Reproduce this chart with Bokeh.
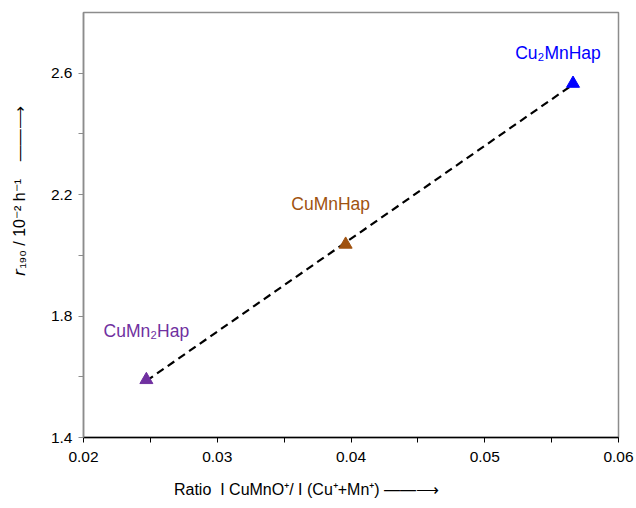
import numpy as np
from bokeh.plotting import figure
from bokeh.models import ColumnDataSource, FixedTicker, Range1d
from bokeh.core.properties import value
from bokeh.embed import file_html
from bokeh.resources import INLINE

# data
samples = ["CuMn₂Hap", "CuMnHap", "Cu₂MnHap"]
ratio = [0.0247, 0.0396, 0.0566]
r190 = [1.590, 2.036, 2.566]
colors = ["#7030A0", "#A0520F", "#0000FF"]
x_ticks = [0.02, 0.03, 0.04, 0.05, 0.06]
x_minor = [0.025, 0.035, 0.045, 0.055]
y_ticks = [1.4, 1.8, 2.2, 2.6]
y_minor = [1.6, 2.0, 2.4]
x_title = "Ratio\u00a0 I CuMnO⁺/ I (Cu⁺+Mn⁺)"
y_title = "𝘳₁₉₀ / 10⁻² h⁻¹"
ARROW = "——⟶"

# style (label offsets in pixels)
label_dx = [0, -15, -15]
label_dy = [-49, -40, -31]
NB = "\u00a0"

FONT = "Liberation Sans"

p = figure(width=636, height=508, output_backend="svg", toolbar_location=None,
           x_range=Range1d(0.02, 0.06), y_range=Range1d(1.4, 2.8),
           min_border_left=83, min_border_right=18, min_border_top=12, min_border_bottom=71)
p.grid.visible = False
p.outline_line_color = "#8c8c8c"
p.outline_line_width = 1.5
p.background_fill_color = "white"
p.border_fill_color = "white"

# fit line
k, b = np.polyfit(ratio, r190, 1)
fx = [min(ratio), max(ratio)]
fy = [k * v + b for v in fx]
p.line(fx, fy, line_color="black", line_width=2.2, line_dash="8 5")

src = ColumnDataSource(dict(x=ratio, y=r190, c=colors, t=samples, dx=label_dx, dy=label_dy))
p.scatter("x", "y", source=src, marker="triangle", size=13, fill_color="c", line_color="c")
p.text("x", "y", text="t", source=src, text_color="c", x_offset="dx", y_offset="dy",
       text_align="center", text_baseline="middle", text_font=value(FONT), text_font_size="17.5px")

xax = p.xaxis[0]
xax.ticker = FixedTicker(ticks=x_ticks, minor_ticks=x_minor)
xax.axis_line_color = "black"
xax.axis_line_width = 1.5
xax.major_tick_line_color = "black"
xax.minor_tick_line_color = "black"
xax.major_tick_in = 0
xax.major_tick_out = 5
xax.minor_tick_in = 0
xax.minor_tick_out = 5
xax.major_label_text_font = FONT
xax.major_label_text_font_size = "15.5px"
xax.major_label_text_color = "black"
xax.major_label_standoff = 9
xax.axis_label = x_title + " " + ARROW + NB * 20
xax.axis_label_text_font = FONT
xax.axis_label_text_font_style = "normal"
xax.axis_label_text_font_size = "16px"
xax.axis_label_text_color = "black"
xax.axis_label_standoff = 16

yax = p.yaxis[0]
yax.ticker = FixedTicker(ticks=y_ticks, minor_ticks=y_minor)
yax.axis_line_color = "#8c8c8c"
yax.axis_line_width = 1.5
yax.major_tick_line_color = "#8c8c8c"
yax.minor_tick_line_color = "#8c8c8c"
yax.major_tick_in = 0
yax.major_tick_out = 5
yax.minor_tick_in = 0
yax.minor_tick_out = 5
yax.major_label_text_font = FONT
yax.major_label_text_font_size = "15.5px"
yax.major_label_text_color = "black"
yax.major_label_standoff = 6
yax.axis_label = NB * 14 + y_title + NB * 4 + ARROW
yax.axis_label_text_font = FONT
yax.axis_label_text_font_style = "normal"
yax.axis_label_text_font_size = "16px"
yax.axis_label_text_color = "black"
yax.axis_label_standoff = 20

open("out.html", "w").write(file_html(p, INLINE))
